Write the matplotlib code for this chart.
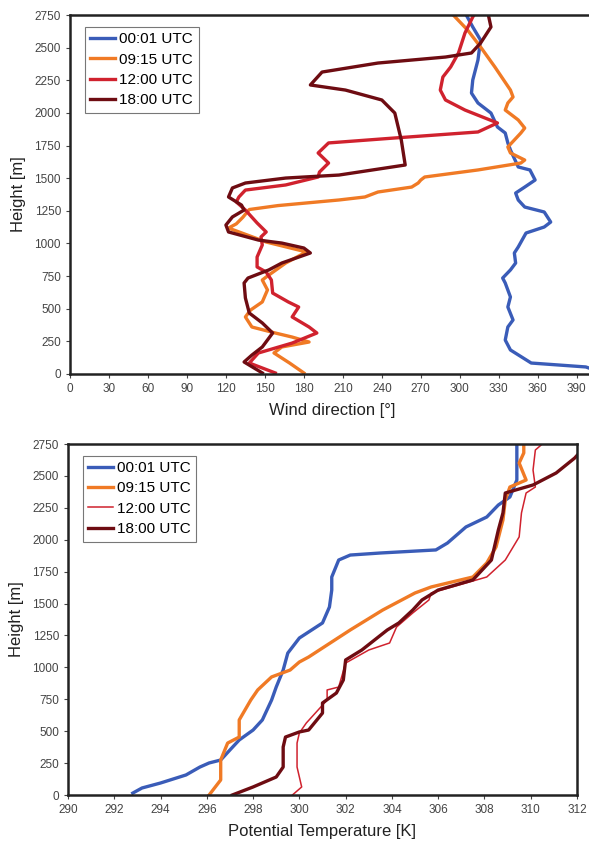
import matplotlib
matplotlib.use("Agg")
import matplotlib.pyplot as plt

# ---------------- Top panel: wind direction ----------------
wd_blue_h = [30, 54, 84, 184, 260, 360, 414, 513, 590, 697, 735, 797, 850, 927, 973, 1080, 1126, 1164, 1241, 1279, 1333, 1386, 1432, 1486, 1563, 1586, 1716, 1770, 1846, 1892, 1999, 2076, 2152, 2252, 2405, 2558, 2658, 2750]
wd_blue = [404, 397, 355, 339, 335, 337, 341, 337, 339, 335, 333, 339, 343, 342, 345, 351, 365, 370, 365, 350, 345, 343, 350, 358, 354, 345, 339, 337, 335, 329, 324, 314, 309, 310, 314, 316, 310, 305]

wd_orange_h = [8, 84, 161, 207, 245, 283, 314, 360, 437, 490, 552, 644, 720, 758, 850, 935, 1011, 1118, 1150, 1200, 1260, 1290, 1333, 1356, 1394, 1432, 1463, 1486, 1509, 1563, 1616, 1639, 1693, 1739, 1846, 1884, 1946, 2022, 2076, 2122, 2175, 2352, 2505, 2635, 2750]
wd_orange = [180, 169, 157, 163, 184, 171, 158, 140, 135, 139, 148, 152, 148, 153, 166, 182, 151, 122, 128, 133, 138, 160, 207, 227, 237, 263, 268, 270, 273, 314, 347, 350, 339, 337, 347, 350, 345, 335, 337, 341, 339, 327, 316, 306, 295]

wd_red_h = [8, 84, 161, 237, 314, 360, 437, 513, 552, 620, 720, 781, 820, 896, 988, 1050, 1088, 1157, 1256, 1318, 1356, 1409, 1448, 1509, 1547, 1616, 1693, 1770, 1808, 1854, 1923, 2022, 2099, 2175, 2275, 2352, 2459, 2612, 2735, 2750]
wd_red = [158, 138, 145, 171, 190, 184, 171, 176, 168, 156, 155, 151, 144, 144, 148, 147, 151, 144, 135, 128, 130, 135, 166, 191, 192, 199, 191, 199, 250, 314, 329, 304, 289, 285, 287, 293, 299, 304, 310, 311]

wd_dred_h = [8, 92, 145, 207, 314, 391, 467, 582, 697, 735, 797, 850, 927, 965, 1003, 1026, 1088, 1141, 1203, 1256, 1294, 1356, 1425, 1463, 1501, 1524, 1601, 1792, 1999, 2099, 2175, 2214, 2313, 2382, 2428, 2459, 2535, 2658, 2750]
wd_dred = [148, 134, 140, 148, 156, 148, 138, 135, 134, 137, 153, 163, 185, 180, 163, 145, 122, 120, 125, 134, 132, 122, 125, 135, 166, 207, 258, 255, 250, 240, 212, 185, 194, 237, 289, 309, 316, 324, 322]

# ---------------- Bottom panel: potential temperature ----------------
pt_blue_h = [15, 55, 94, 157, 219, 251, 274, 353, 431, 509, 588, 666, 744, 846, 979, 1112, 1230, 1348, 1473, 1606, 1708, 1841, 1880, 1896, 1920, 1974, 2100, 2178, 2272, 2335, 2468, 2625, 2750]
pt_blue = [292.8, 293.2, 294.0, 295.1, 295.7, 296.1, 296.6, 297.0, 297.4, 298.0, 298.4, 298.6, 298.8, 299.0, 299.3, 299.5, 300.0, 301.0, 301.3, 301.4, 301.4, 301.7, 302.2, 303.5, 305.9, 306.4, 307.2, 308.1, 308.6, 309.1, 309.4, 309.4, 309.4]

pt_orange_h = [0, 118, 274, 407, 454, 588, 744, 823, 925, 979, 1042, 1081, 1293, 1449, 1583, 1630, 1708, 1818, 1943, 2155, 2311, 2413, 2468, 2601, 2680, 2750]
pt_orange = [296.1, 296.6, 296.6, 296.9, 297.4, 297.4, 297.9, 298.2, 298.8, 299.6, 300.0, 300.4, 302.2, 303.6, 305.0, 305.7, 307.5, 308.1, 308.5, 308.8, 308.9, 309.1, 309.8, 309.5, 309.7, 309.7]

pt_red_h = [0, 63, 219, 407, 486, 564, 744, 823, 846, 1034, 1136, 1191, 1316, 1426, 1528, 1583, 1708, 1841, 2022, 2210, 2366, 2413, 2546, 2703, 2750]
pt_red = [299.7, 300.1, 299.9, 299.9, 300.0, 300.3, 301.2, 301.2, 301.7, 302.0, 303.0, 303.9, 304.2, 304.9, 305.6, 305.7, 308.1, 308.9, 309.5, 309.6, 309.8, 310.2, 310.1, 310.2, 310.5]

pt_dred_h = [0, 63, 141, 219, 376, 454, 494, 509, 642, 721, 799, 901, 1058, 1136, 1293, 1348, 1449, 1528, 1606, 1685, 1841, 2076, 2210, 2366, 2429, 2523, 2640, 2680]
pt_dred = [297.1, 298.0, 299.0, 299.3, 299.3, 299.4, 300.0, 300.4, 301.0, 301.0, 301.6, 301.9, 302.0, 302.7, 303.8, 304.3, 304.9, 305.3, 306.0, 307.5, 308.3, 308.6, 308.8, 308.9, 310.1, 311.1, 311.9, 312.1]

labels = ["00:01 UTC", "09:15 UTC", "12:00 UTC", "18:00 UTC"]
c_blue, c_orange, c_red, c_dred = "#3a5cb8", "#f07a25", "#d0222e", "#6e0c12"

plt.rcParams['font.family'] = ['Liberation Sans', 'DejaVu Sans']

fig = plt.figure(figsize=(5.89, 8.43), dpi=100)
ax1 = fig.add_axes([70/589, 1-374/843, 1-70/589 + 0.01, (374-15)/843])
ax2 = fig.add_axes([68/589, 1-795/843, (577-68)/589, (795-444)/843])

lw = 2.4
ax1.plot(wd_blue, wd_blue_h, color=c_blue, lw=lw, label=labels[0])
ax1.plot(wd_orange, wd_orange_h, color=c_orange, lw=lw, label=labels[1])
ax1.plot(wd_red, wd_red_h, color=c_red, lw=lw, label=labels[2])
ax1.plot(wd_dred, wd_dred_h, color=c_dred, lw=lw, label=labels[3])
ax1.set_xlim(0, 404)
ax1.set_ylim(0, 2750)
ax1.set_xticks(range(0, 391, 30))
ax1.set_yticks(range(0, 2751, 250))
ax1.set_xlabel("Wind direction [°]", fontsize=12, color="#222222", labelpad=6)
ax1.set_ylabel("Height [m]", fontsize=12, color="#222222", labelpad=6)

ax2.plot(pt_blue, pt_blue_h, color=c_blue, lw=lw, label=labels[0])
ax2.plot(pt_orange, pt_orange_h, color=c_orange, lw=lw, label=labels[1])
ax2.plot(pt_red, pt_red_h, color=c_red, lw=1.1, label=labels[2])
ax2.plot(pt_dred, pt_dred_h, color=c_dred, lw=lw, label=labels[3])
ax2.set_xlim(290, 312)
ax2.set_ylim(0, 2750)
ax2.set_xticks(range(290, 313, 2))
ax2.set_yticks(range(0, 2751, 250))
ax2.set_xlabel("Potential Temperature [K]", fontsize=12, color="#222222", labelpad=6)
ax2.set_ylabel("Height [m]", fontsize=12, color="#222222", labelpad=6)

for ax in (ax1, ax2):
    for s in ax.spines.values():
        s.set_linewidth(1.8)
        s.set_color("#222222")
    ax.tick_params(labelsize=8.5, colors="#444444", length=3, width=0.8)
    leg = ax.legend(loc="upper left", bbox_to_anchor=(0.02, 0.98), fontsize=11,
                    fancybox=False, edgecolor="#777777", framealpha=1,
                    handlelength=1.6, handletextpad=0.3, borderpad=0.35,
                    labelspacing=0.42, borderaxespad=0.3)
    leg.get_frame().set_linewidth(0.8)
ax1.spines['right'].set_visible(False)

fig.savefig("out.png", dpi=100)
